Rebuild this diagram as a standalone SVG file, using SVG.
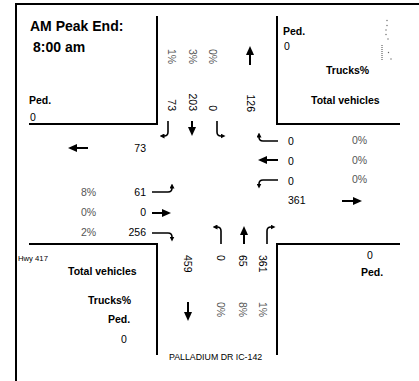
<svg xmlns="http://www.w3.org/2000/svg" width="419" height="381" viewBox="0 0 419 381">
<style>
text{font-family:"Liberation Sans",Arial,sans-serif;fill:#000}
.n{font-size:10.5px}
.p{font-size:10.5px;fill:#555}
.b{font-size:10.5px;font-weight:bold}
.t{font-size:14px;font-weight:bold}
.box{fill:none;stroke:#000;stroke-width:2}
.big{fill:none;stroke:#000;stroke-width:2;marker-end:url(#bh)}
.hk{fill:none;stroke:#000;stroke-width:1.6;marker-end:url(#sh)}
.dot{fill:#666}
</style>
<defs>
<marker id="bh" viewBox="0 0 9 8" refX="5" refY="4" markerWidth="9" markerHeight="8" markerUnits="userSpaceOnUse" orient="auto"><path d="M0,0 L9,4 L0,8 z" fill="#000"/></marker>
<marker id="sh" viewBox="0 0 5 5" refX="2.5" refY="2.5" markerWidth="5" markerHeight="5" markerUnits="userSpaceOnUse" orient="auto"><path d="M0,0 L5,2.5 L0,5 z" fill="#000"/></marker>
</defs>
<rect width="419" height="381" fill="#fff"/>
<g id="frame">
<path class="box" d="M16,381 V4 H419"/>
</g>
<g id="corner-nw">
<path class="box" d="M29,124 H157 V16"/>
<text class="t" x="30" y="31">AM Peak End:</text>
<text class="t" x="33" y="52">8:00 am</text>
<text class="b" x="29" y="104">Ped.</text>
<text class="n" x="30" y="121">0</text>
</g>
<g id="corner-ne">
<path class="box" d="M277,16 V124 H400"/>
<text class="b" x="283" y="35">Ped.</text>
<text class="n" x="284" y="50">0</text>
<text class="b" x="326" y="74">Trucks%</text>
<text class="b" x="311" y="104">Total vehicles</text>
<g id="dots">
<circle class="dot" cx="387" cy="20.5" r="0.7"/>
<circle class="dot" cx="387" cy="25.5" r="0.7"/>
<circle class="dot" cx="386" cy="30" r="0.7"/>
<circle class="dot" cx="386" cy="34.5" r="0.7"/>
<circle class="dot" cx="388" cy="39" r="0.7"/>
<line x1="382" y1="45" x2="382" y2="61" stroke="#444" stroke-width="1" stroke-dasharray="1,1"/>
<circle class="dot" cx="388.5" cy="52.5" r="0.7"/>
<circle class="dot" cx="391" cy="59" r="0.7"/>
</g>
</g>
<g id="corner-sw">
<path class="box" d="M29,244 H157 V355"/>
<text x="18" y="261" style="font-size:7.7px">Hwy 417</text>
<text class="b" x="68" y="275">Total vehicles</text>
<text class="b" x="88" y="304">Trucks%</text>
<text class="b" x="108" y="323">Ped.</text>
<text class="n" x="121" y="343">0</text>
</g>
<g id="corner-se">
<path class="box" d="M277,355 V244 H400"/>
<text class="n" x="367" y="259">0</text>
<text class="b" x="361" y="276">Ped.</text>
</g>
<g id="north-approach">
<text class="p" transform="translate(168.3,49) rotate(90)">1%</text>
<text class="p" transform="translate(189,49) rotate(90)">3%</text>
<text class="p" transform="translate(209,49) rotate(90)">0%</text>
<text class="n" text-anchor="end" transform="translate(168.3,111) rotate(90)">73</text>
<text class="n" text-anchor="end" transform="translate(189,111) rotate(90)">203</text>
<text class="n" text-anchor="end" transform="translate(209,111) rotate(90)">0</text>
<text class="n" text-anchor="end" transform="translate(247.3,112) rotate(90)">126</text>
</g>
<g id="west-approach">
<text class="n" text-anchor="end" x="146" y="152">73</text>
<text class="p" x="81" y="196">8%</text>
<text class="p" x="81" y="216">0%</text>
<text class="p" x="81" y="236">2%</text>
<text class="n" text-anchor="end" x="146" y="196">61</text>
<text class="n" text-anchor="end" x="146" y="216">0</text>
<text class="n" text-anchor="end" x="146" y="236">256</text>
</g>
<g id="east-approach">
<text class="n" x="288" y="145">0</text>
<text class="n" x="288" y="165">0</text>
<text class="n" x="288" y="185">0</text>
<text class="p" x="352" y="144">0%</text>
<text class="p" x="352" y="164">0%</text>
<text class="p" x="352" y="183">0%</text>
<text class="n" x="288" y="204">361</text>
</g>
<g id="south-approach">
<text class="n" transform="translate(184,255) rotate(90)">459</text>
<text class="n" transform="translate(217,255) rotate(90)">0</text>
<text class="n" transform="translate(238.5,255) rotate(90)">65</text>
<text class="n" transform="translate(258.5,255) rotate(90)">361</text>
<text class="p" transform="translate(217,302) rotate(90)">0%</text>
<text class="p" transform="translate(238.5,302) rotate(90)">8%</text>
<text class="p" transform="translate(258.5,302) rotate(90)">1%</text>
<text x="169" y="360" style="font-size:8.8px">PALLADIUM DR IC-142</text>
</g>
<g id="arrows">
<path class="big" d="M250,65 V50"/>
<path class="big" d="M88,148 H72"/>
<path class="big" d="M342,201 H358"/>
<path class="big" d="M188,302 V317"/>
<path class="hk" d="M168,121 V132 Q168,136 164,136 H162"/>
<path class="big" d="M192,121 V132"/>
<path class="hk" d="M217,121 V132 Q217,136 221,136 H223"/>
<path class="hk" d="M278,141 H263 Q259,141 259,137 V135"/>
<path class="big" d="M278,160 H262"/>
<path class="hk" d="M278,180 H263 Q259,180 259,184 V186"/>
<path class="hk" d="M152,192 H168 Q172,192 172,188 V186"/>
<path class="big" d="M152,213 H167"/>
<path class="hk" d="M152,233 H168 Q172,233 172,237 V239"/>
<path class="hk" d="M221,244 V231 Q221,227 217,227 H215"/>
<path class="big" d="M244,244 V230"/>
<path class="hk" d="M267,244 V231 Q267,227 271,227 H273"/>
</g>
</svg>
